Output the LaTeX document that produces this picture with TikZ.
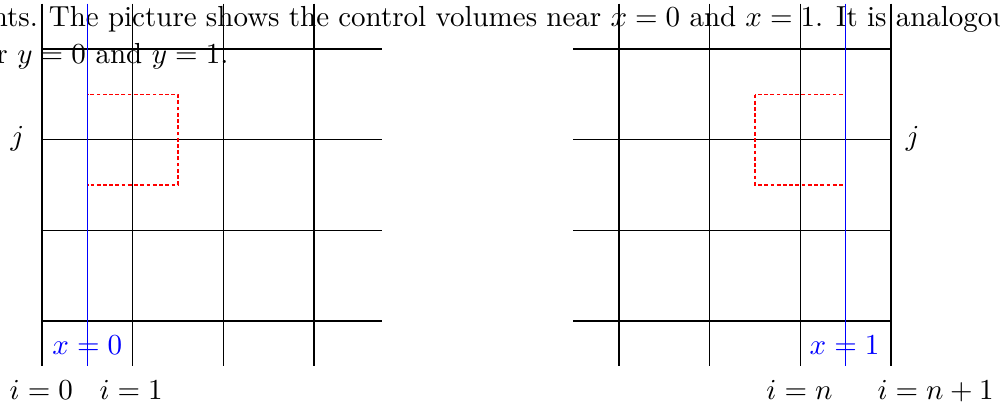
\documentclass[tikz,border=0pt]{standalone}
\begin{document}
\begin{tikzpicture}[x=0.3448pt,y=-0.3448pt,
  gridline/.style={black,line width=0.4pt},
  bndline/.style={blue,line width=0.4pt},
  cvbox/.style={red,line width=0.4pt,dash pattern=on 1.3pt off 0.85pt},
  lab/.style={inner sep=0pt,font=\fontsize{10}{12}\selectfont},
  txt/.style={inner sep=0pt,font=\fontsize{10}{12}\selectfont}]
\useasboundingbox (0,0) rectangle (1000,406);
% paragraph text (clipped by the page)
\node[txt,anchor=base east] (tA) at (38.5,26.7) {nts.};
\node[txt,anchor=base west] (tB) at (48.3,26.7) {\hbox to 330.9pt{The picture shows the control volumes near $x=0$ and $x=1$. It is analogou}};
\node[txt,anchor=base east] (tC) at (229,63.3) {r $y=0$ and $y=1$.};
% left grid
\foreach \xx in {42,132.5,223.5,314} \draw[gridline] (\xx,3.67) -- (\xx,366.33);
\foreach \yy in {49,139.5,230.5,321} \draw[gridline] (42,\yy) -- (382,\yy);
\draw[cvbox] (87.5,94.5) rectangle (178,185);
\draw[bndline] (87.5,3.67) -- (87.5,366.33);
% right grid
\foreach \xx in {619,709.5,800.5,891} \draw[gridline] (\xx,3.67) -- (\xx,366.33);
\foreach \yy in {49,139.5,230.5,321} \draw[gridline] (573.33,\yy) -- (891,\yy);
\draw[cvbox] (755,94.5) rectangle (845.5,185);
\draw[bndline] (845.5,3.67) -- (845.5,366.33);
% labels
\node[lab] (jL) at (17.5,139.2) {$j$};
\node[lab] (jR) at (912.7,139.2) {$j$};
\node[lab,anchor=base,text=blue] (x0) at (87.3,354) {$x=0$};
\node[lab,anchor=base,text=blue] (x1) at (844.5,354) {$x=1$};
\node[lab,anchor=base] (i0) at (41.3,399) {$i=0$};
\node[lab,anchor=base] (i1) at (131.2,399) {$i=1$};
\node[lab,anchor=base] (in) at (799.5,399) {$i=n$};
\node[lab,anchor=base] (in1) at (935.5,399) {$i=n+1$};
\end{tikzpicture}
\end{document}
